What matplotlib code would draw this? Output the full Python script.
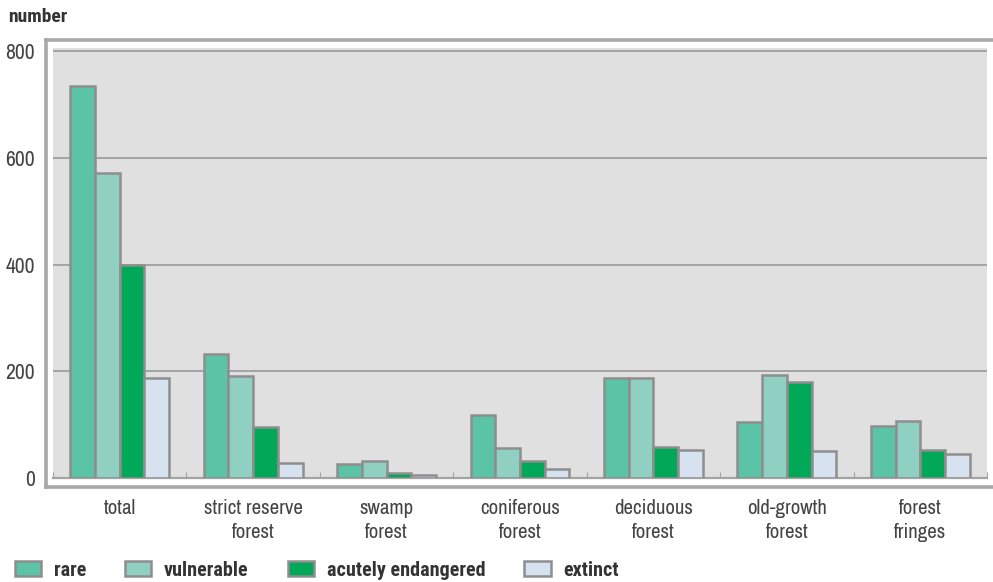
import numpy as np
import matplotlib
matplotlib.use('Agg')
import matplotlib.pyplot as plt
from matplotlib.lines import Line2D

plt.rcParams['font.family'] = ['Archivo Narrow', 'Liberation Sans', 'DejaVu Sans']
bold_family = ['Roboto Condensed', 'Saira Condensed', 'DejaVu Sans']

# data
categories = ['total', 'strict reserve\nforest', 'swamp\nforest', 'coniferous\nforest',
              'deciduous\nforest', 'old-growth\nforest', 'forest\nfringes']
series_names = ['rare', 'vulnerable', 'acutely endangered', 'extinct']
rare = [735, 233, 27, 118, 187, 105, 97]
vulnerable = [572, 192, 32, 56, 187, 194, 107]
acutely = [400, 95, 9, 32, 59, 180, 53]
extinct = [188, 28, 6, 16, 53, 50, 45]
yticks = [0, 200, 400, 600, 800]

colors = ['#5cc4a6', '#8fd0c2', '#00a857', '#d6e2ef']
edge = '#8e8e8e'

W, H = 993, 582
fig = plt.figure(figsize=(W / 100, H / 100), dpi=100)
ax = fig.add_axes([53 / W, 1 - 478 / H, (987 - 53) / W, (478 - 48) / H])
ax.set_facecolor('#e0e0e0')

x = np.arange(len(categories))
bw = 0.185
values = [rare, vulnerable, acutely, extinct]
handles = []
for i, vals in enumerate(values):
    b = ax.bar(x + (i - 1.5) * bw, vals, width=bw, color=colors[i],
               edgecolor=edge, linewidth=1.8, zorder=3, label=series_names[i])
    handles.append(b)

ax.set_xlim(-0.5, len(categories) - 0.5)
ax.set_ylim(0, 806)

# grid
ax.set_yticks(yticks)
ax.yaxis.grid(True, color='#a3a3a3', linewidth=1.4, zorder=1)
for s in ['top', 'right', 'left']:
    ax.spines[s].set_visible(False)
ax.spines['bottom'].set_color('#a3a3a3')
ax.spines['bottom'].set_linewidth(1.6)

ax.set_xticks(x)
ax.set_xticklabels(categories, fontsize=15, color='#444444', linespacing=1.35)
ax.tick_params(axis='x', which='major', length=0, pad=15)
ax.set_xticks(np.arange(-0.5, len(categories)), minor=True)
ax.tick_params(axis='x', which='minor', direction='in', length=4, width=0.8, color='#a3a3a3')
ax.set_yticklabels([str(v) for v in yticks], fontsize=15.5, color='#444444')
ax.tick_params(axis='y', length=0, pad=13)

# outer frame (top, left, bottom)
fc = '#a8a8ab'
fig.add_artist(Line2D([45.5 / W, 1.0], [1 - 39.5 / H, 1 - 39.5 / H], color=fc, lw=2.6, transform=fig.transFigure))
fig.add_artist(Line2D([45.5 / W, 45.5 / W], [1 - 39.5 / H, 1 - 487 / H], color=fc, lw=2.6, transform=fig.transFigure))
fig.add_artist(Line2D([45.5 / W, 1.0], [1 - 487 / H, 1 - 487 / H], color=fc, lw=2.6, transform=fig.transFigure))

fig.text(8 / W, 1 - 17 / H, 'number', fontsize=14, fontweight='bold', family=bold_family,
         color='#333333', ha='left', va='center')

leg = fig.legend(handles=handles, labels=series_names, loc='center left',
                 bbox_to_anchor=(15 / W, 1 - 570 / H), ncol=4, frameon=False,
                 prop={'size': 14.5, 'weight': 'bold', 'family': bold_family},
                 handlelength=1.3, handleheight=0.8,
                 handletextpad=0.62, columnspacing=1.95, borderpad=0, borderaxespad=0)
for t in leg.get_texts():
    t.set_color('#333333')

fig.savefig('out.png', dpi=100)
